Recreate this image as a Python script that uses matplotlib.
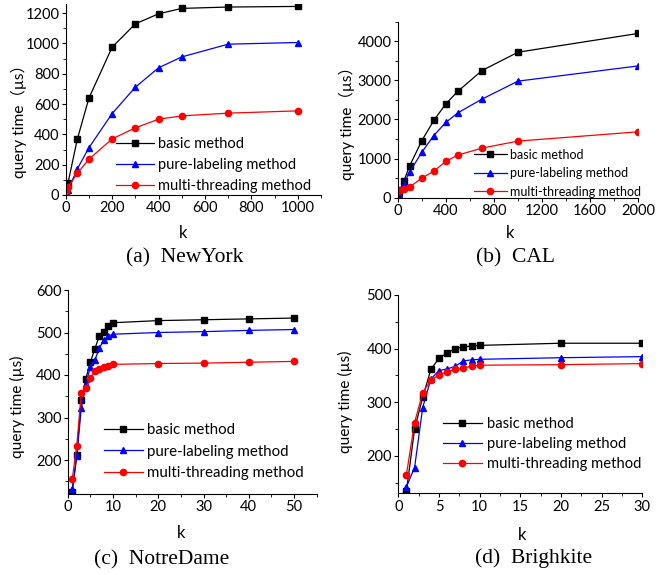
import matplotlib
matplotlib.use('Agg')
import matplotlib.pyplot as plt
from matplotlib.ticker import MultipleLocator

plt.rcParams['font.family'] = ['Lato', 'DejaVu Sans']

# (a) NewYork
k_ny = [1, 10, 50, 100, 200, 300, 400, 500, 700, 1000]
basic_ny = [20, 80, 368, 639, 975, 1129, 1195, 1231, 1240, 1244]
pure_ny = [11, 33, 172, 312, 537, 711, 839, 911, 995, 1006]
multi_ny = [20, 51, 143, 236, 370, 443, 500, 522, 540, 555]

# (b) CAL
k_cal = [1, 10, 50, 100, 200, 300, 400, 500, 700, 1000, 2000]
basic_cal = [40, 150, 420, 820, 1455, 1975, 2400, 2720, 3250, 3720, 4200]
pure_cal = [20, 100, 360, 660, 1160, 1590, 1925, 2170, 2520, 2980, 3370]
multi_cal = [180, 190, 212, 275, 500, 675, 930, 1090, 1268, 1447, 1685]

# (c) NotreDame
k_nd = [1, 2, 3, 4, 5, 6, 7, 8, 9, 10, 20, 30, 40, 50]
basic_nd = [124, 212, 341, 391, 430, 462, 492, 502, 515, 523, 528, 530, 532, 534]
pure_nd = [132, 209, 322, 380, 418, 435, 464, 482, 492, 496, 500, 502, 505, 507]
multi_nd = [155, 234, 357, 369, 392, 409, 413, 418, 422, 425, 427, 428, 430, 432]

# (d) Brighkite
k_bk = [1, 2, 3, 4, 5, 6, 7, 8, 9, 10, 20, 30]
basic_bk = [134, 250, 309, 361, 382, 392, 400, 403, 405, 406, 410, 410]
pure_bk = [142, 178, 290, 343, 359, 362, 367, 377, 379, 380, 383, 385]
multi_bk = [165, 262, 318, 341, 351, 357, 361, 364, 367, 369, 370, 372]

labels = ['basic method', 'pure-labeling method', 'multi-threading method']

W, H = 667, 575
fig = plt.figure(figsize=(W / 100, H / 100), dpi=100)


def px_axes(l, r, b, t):
    return fig.add_axes([l / W, 1 - b / H, (r - l) / W, (b - t) / H])


panels = [
    dict(k=k_ny, ys=(basic_ny, pure_ny, multi_ny), box=(65.7, 321, 195, 4),
         xlim=(0, 1100), ylim=(0, 1260), xt=(200, 100), yt=(200, 100),
         ylab='query time（µs）', ylab_xy=(-0.152, 0.405),
         leg=(0.168, 0.341), lfs=10.5, spacing=0.48, hl=2.6,
         cap='(a)  NewYork', cap_xy=(185, 258), k_xy=(183, 233)),
    dict(k=k_cal, ys=(basic_cal, pure_cal, multi_cal), box=(397.7, 638.3, 197.7, 21.7),
         xlim=(0, 2000), ylim=(0, 4500), xt=(400, 200), yt=(1000, 500),
         ylab='query time（µs）', ylab_xy=(-0.177, 0.447),
         leg=(0.292, 0.313), lfs=9, spacing=0.51, hl=2.6,
         cap='(b)  CAL', cap_xy=(515, 258), k_xy=(510, 233)),
    dict(k=k_nd, ys=(basic_nd, pure_nd, multi_nd), box=(67.7, 316.7, 494, 290),
         xlim=(0, 55), ylim=(120, 600), xt=(10, 5), yt=(100, 50),
         ylab='query time (µs)', ylab_xy=(-0.171, 0.427),
         leg=(0.117, 0.383), lfs=10.8, spacing=0.49, hl=2.55,
         cap='(c)  NotreDame', cap_xy=(162, 560), k_xy=(181, 533)),
    dict(k=k_bk, ys=(basic_bk, pure_bk, multi_bk), box=(398.3, 642.3, 493.3, 295),
         xlim=(0, 30), ylim=(130, 500), xt=(5, 2.5), yt=(100, 50),
         ylab='query time (µs)', ylab_xy=(-0.184, 0.462),
         leg=(0.151, 0.421), lfs=10.6, spacing=0.40, hl=2.7,
         cap='(d)  Brighkite', cap_xy=(534, 558), k_xy=(522, 535)),
]

styles = [dict(color='black', marker='s', ms=4),
          dict(color='#0000ff', marker='^', ms=5),
          dict(color='#ff0000', marker='o', ms=4.5)]

for p in panels:
    l, r, b, t = p['box']
    ax = px_axes(l, r, b, t)
    for ys, st, lab in zip(p['ys'], styles, labels):
        ax.plot(p['k'], ys, color=st['color'], marker=st['marker'],
                markersize=st['ms'], linewidth=0.9, label=lab)
    ax.set_xlim(*p['xlim'])
    ax.set_ylim(*p['ylim'])
    ax.xaxis.set_major_locator(MultipleLocator(p['xt'][0]))
    ax.xaxis.set_minor_locator(MultipleLocator(p['xt'][1]))
    ax.yaxis.set_major_locator(MultipleLocator(p['yt'][0]))
    ax.yaxis.set_minor_locator(MultipleLocator(p['yt'][1]))
    ax.spines['top'].set_visible(False)
    ax.spines['right'].set_visible(False)
    ax.tick_params(which='major', direction='out', length=3, width=0.8, labelsize=10.5, pad=1.5)
    ax.tick_params(which='minor', direction='out', length=2, width=0.6)
    ax.set_ylabel(p['ylab'], fontsize=11.2,
                  family=['Lato', 'Noto Sans CJK SC', 'DejaVu Sans'])
    ax.yaxis.set_label_coords(*p['ylab_xy'])
    ax.legend(loc='upper left', bbox_to_anchor=p['leg'], frameon=False,
              fontsize=p['lfs'], handlelength=p['hl'], handletextpad=0.3,
              labelspacing=p['spacing'], borderpad=0)
    fig.text(p['k_xy'][0] / W, 1 - p['k_xy'][1] / H, 'k', fontsize=12,
             ha='center', va='center')
    fig.text(p['cap_xy'][0] / W, 1 - p['cap_xy'][1] / H, p['cap'], fontsize=15.5,
             family='Liberation Serif', ha='center', va='center')

fig.savefig('out.png', dpi=100)
